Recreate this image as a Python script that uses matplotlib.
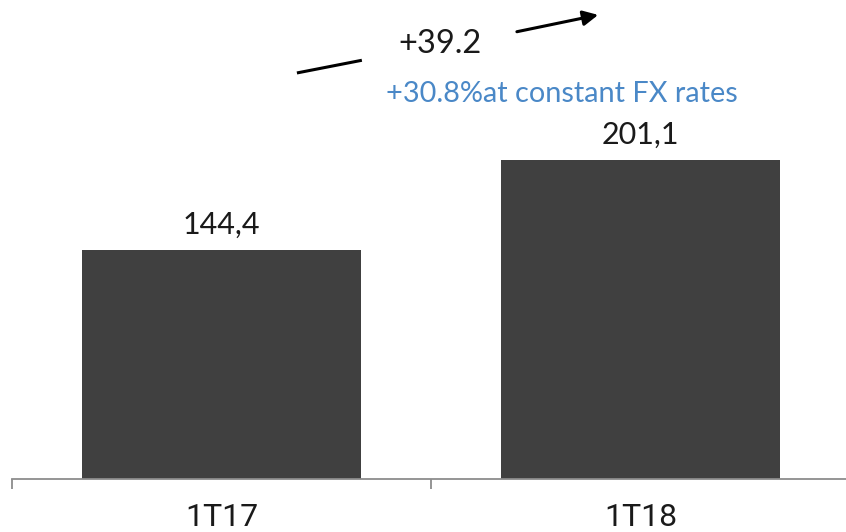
import matplotlib
matplotlib.use("Agg")
import matplotlib.pyplot as plt
from matplotlib import font_manager

# ---------------------------------------------------------------------------
# Data
# ---------------------------------------------------------------------------
PERIODS = ["1T17", "1T18"]
VALUES = [144.4, 201.1]
VALUE_LABELS = ["144,4", "201,1"]
DELTA_LABEL = "+39.2"
FX_LABEL = "+30.8%at constant FX rates"

BAR_COLOR = "#404040"
BLUE = "#4a88c7"

names = {f.name for f in font_manager.fontManager.ttflist}
MAIN_FONT = "Lato" if "Lato" in names else "DejaVu Sans"
NARROW_FONT = "Roboto" if "Roboto" in names else "DejaVu Sans"
plt.rcParams["font.family"] = [MAIN_FONT, "DejaVu Sans"]

W, H = 846, 532
fig = plt.figure(figsize=(W / 100, H / 100), dpi=100)
ax = fig.add_axes([12 / W, 53 / H, 838 / W, 479 / H])

x = list(range(len(PERIODS)))
ax.bar(x, VALUES, width=0.668, color=BAR_COLOR, zorder=2)
ax.set_xlim(-0.5, 1.5)
ax.set_ylim(0, 302)

for xi, v, lab in zip(x, VALUES, VALUE_LABELS):
    ax.annotate(lab, (xi, v), xytext=(0, 12), textcoords="offset points",
                ha="center", va="baseline", fontsize=22, color="#1a1a1a")

# spines / ticks
for s in ["top", "right", "left"]:
    ax.spines[s].set_visible(False)
ax.spines["bottom"].set_color("#8c8c8c")
ax.spines["bottom"].set_linewidth(1.3)
ax.set_yticks([])
ax.set_xticks([-0.5, 0.5, 1.5])
ax.set_xticklabels([])
ax.tick_params(axis="x", which="major", length=7.5, width=1.3, color="#8c8c8c")
ax.set_xticks(x, minor=True)
ax.set_xticklabels(PERIODS, minor=True, fontsize=23, family=[NARROW_FONT, "DejaVu Sans"],
                   fontweight="normal", color="#1a1a1a")
ax.tick_params(axis="x", which="minor", length=0, pad=17)

# growth annotation
ax.plot([0.180, 0.335], [256, 264], color="black", lw=2.2, solid_capstyle="butt",
        clip_on=False)
ax.annotate("", xy=(0.899, 292.6), xytext=(0.705, 282),
            arrowprops=dict(arrowstyle="-|>,head_length=0.9,head_width=0.45",
                            color="black", lw=2.2, shrinkA=0, shrinkB=0),
            annotation_clip=False)
ax.text(0.521, 274, DELTA_LABEL, ha="center", va="center", fontsize=23.5,
        color="#1a1a1a")
ax.text(0.393, 243, FX_LABEL, ha="left", va="center", fontsize=20.8, color=BLUE)

fig.savefig("out.png", dpi=100)
